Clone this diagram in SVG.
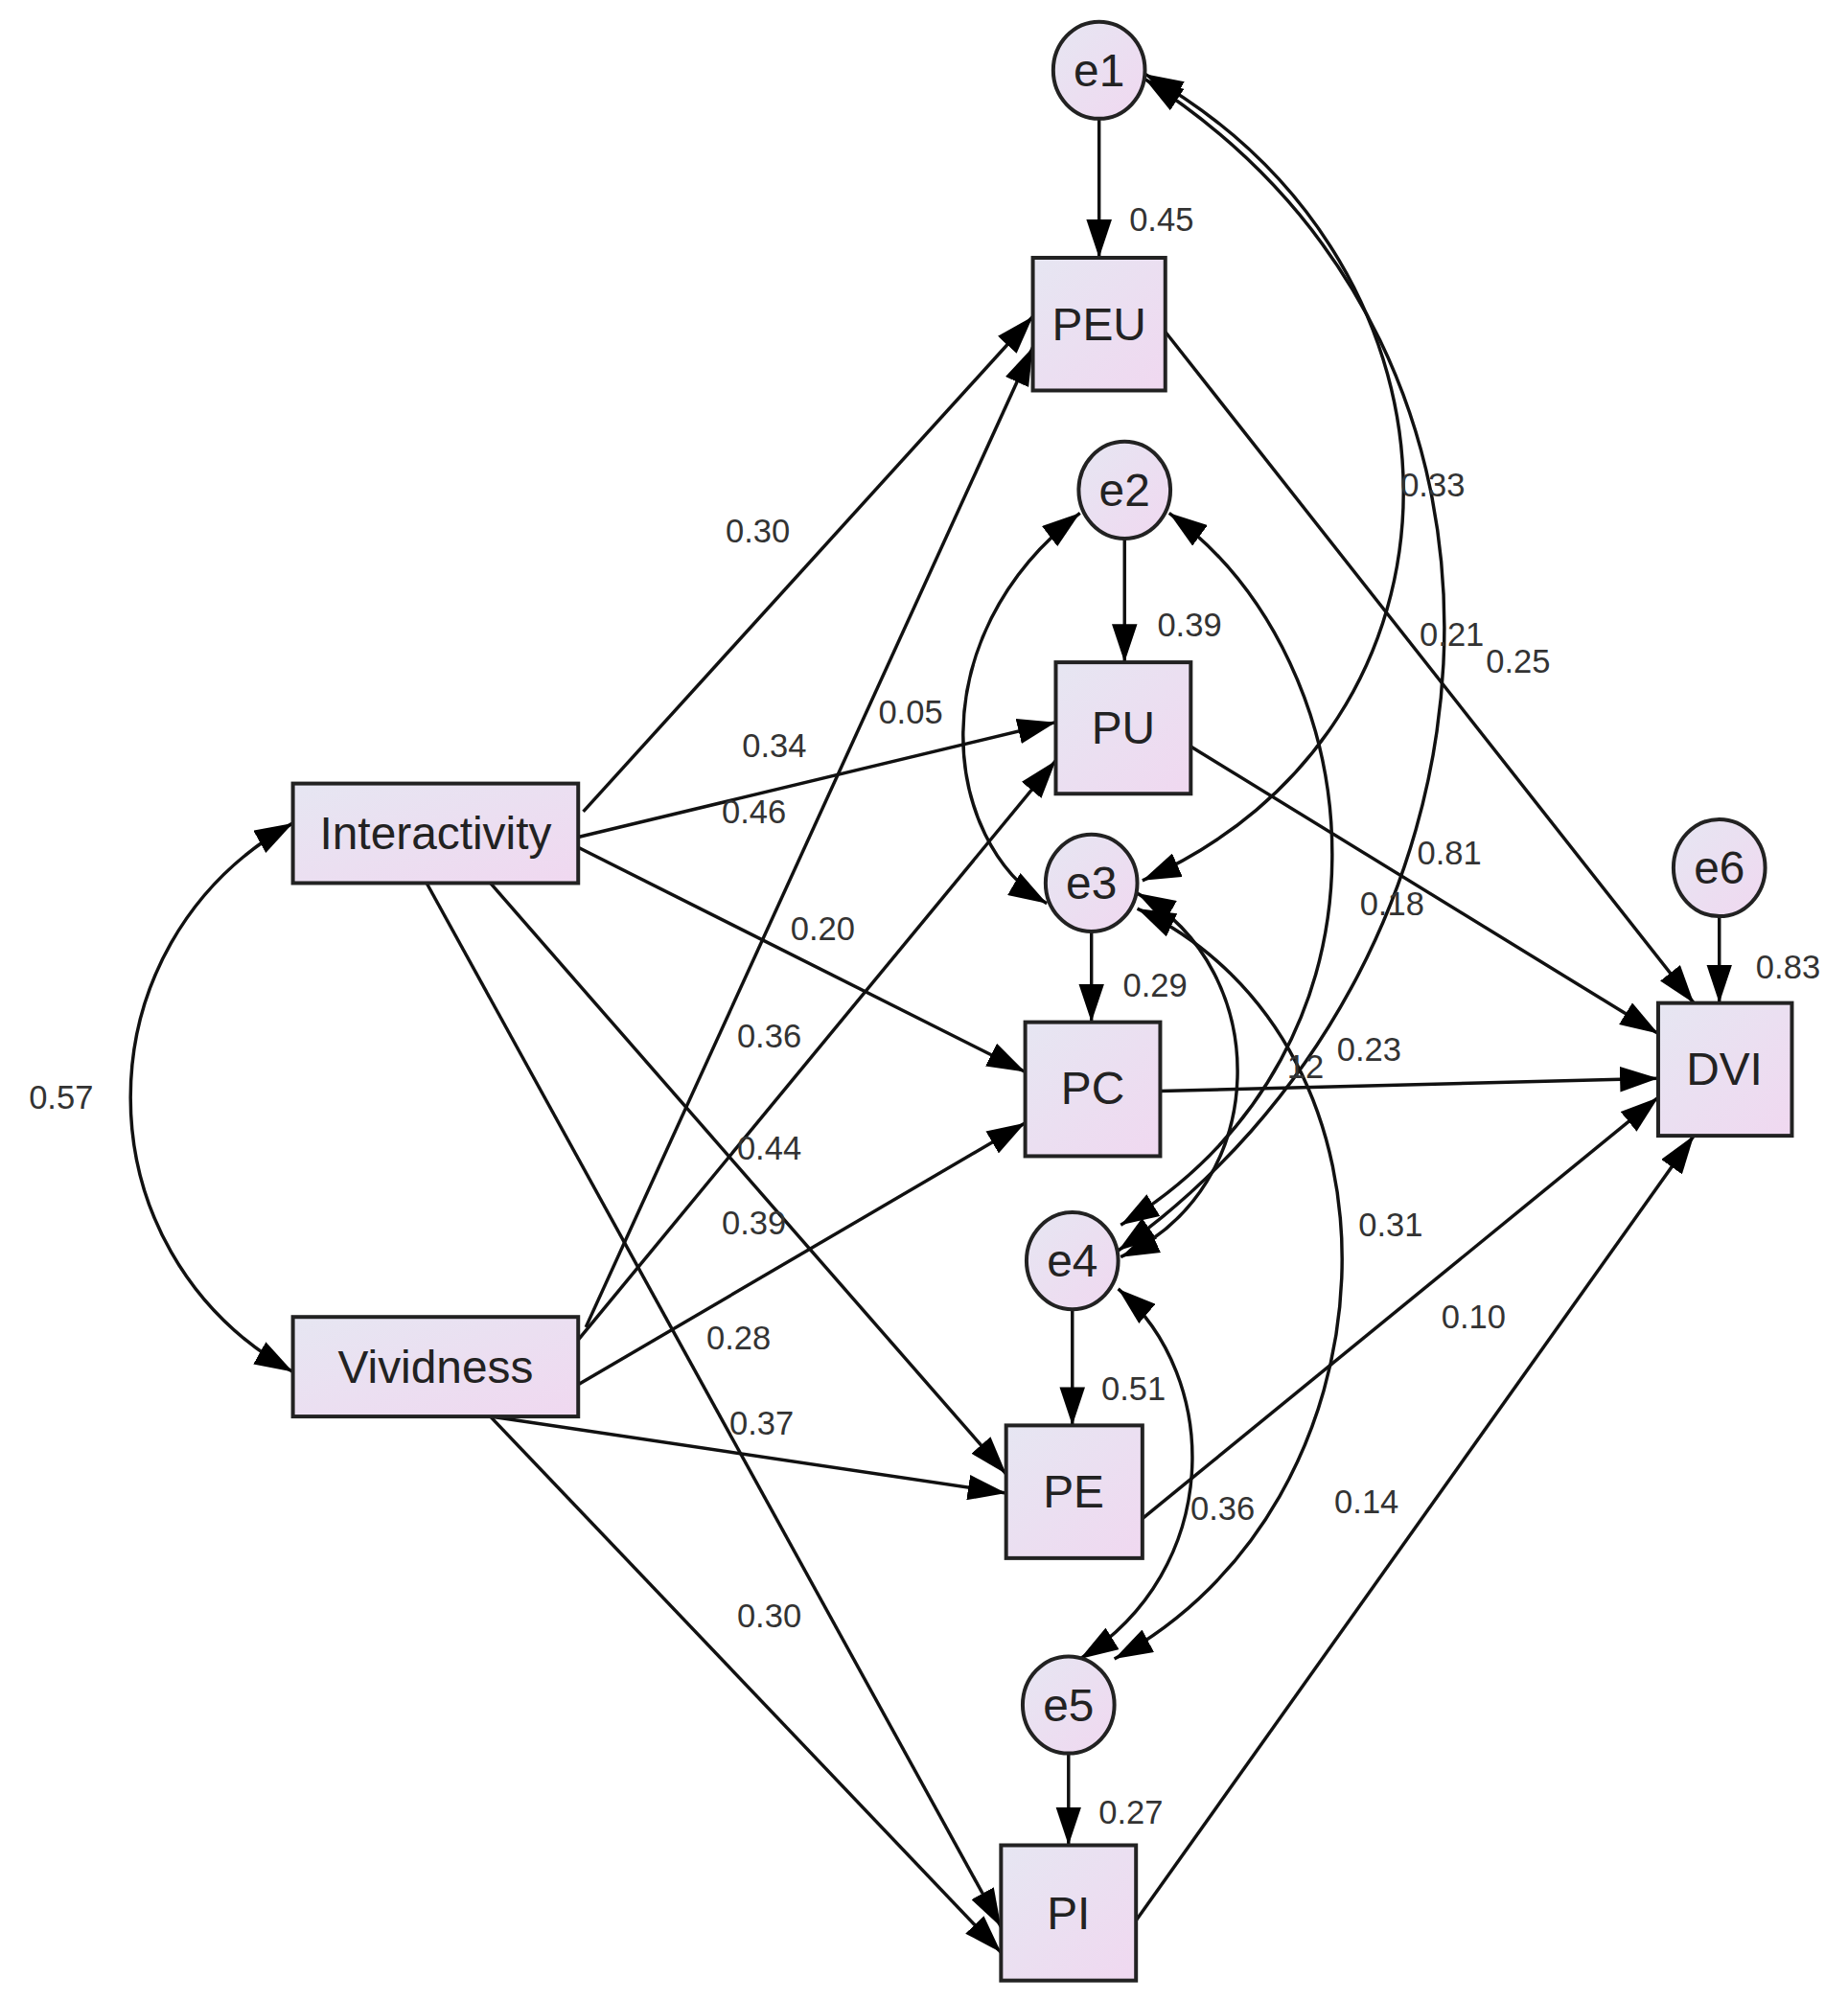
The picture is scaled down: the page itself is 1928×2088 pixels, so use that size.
<svg xmlns="http://www.w3.org/2000/svg" width="1928" height="2088" viewBox="0 0 1928 2088">
<defs>
<linearGradient id="g" x1="0" y1="0" x2="1" y2="1"><stop offset="0" stop-color="#e6e6f2"/><stop offset="1" stop-color="#f0d8f0"/></linearGradient>
<marker id="a" viewBox="0 0 30 20" refX="30" refY="10" markerWidth="30" markerHeight="20" markerUnits="userSpaceOnUse" orient="auto-start-reverse"><path d="M0,0 L30,10 L0,20 z" fill="#000"/></marker>
<style>
.n{fill:url(#g);stroke:#222;stroke-width:3}
.t{font-family:"Liberation Sans",Arial,sans-serif;font-size:36px;fill:#222;text-anchor:middle;dominant-baseline:central}
.l{font-family:"Liberation Sans",Arial,sans-serif;font-size:26px;fill:#333;text-anchor:middle;dominant-baseline:central}
.c path{fill:none;stroke:#111;stroke-width:2.6}
.c .s{marker-end:url(#a)}
.c .d{marker-start:url(#a);marker-end:url(#a)}
</style>
</defs>
<rect width="1928" height="2088" fill="#fff"/>
<g transform="scale(1.3287 1.3316)">
<g class="c" id="connectors">
<path class="s" d="M863,93 L863,202"/>
<path class="s" d="M883,422 L883,519"/>
<path class="s" d="M857,730 L857,801"/>
<path class="s" d="M842,1026 L842,1117"/>
<path class="s" d="M839,1374 L839,1446"/>
<path class="s" d="M1350,718 L1350,786"/>
<path class="s" d="M458,636 L811,248"/>
<path class="s" d="M460,1040 L811,272"/>
<path class="s" d="M454,656 L829,566"/>
<path class="s" d="M454,1050 L829,596"/>
<path class="s" d="M454,664 L805,840"/>
<path class="s" d="M454,1085 L805,880"/>
<path class="s" d="M385,692 L790,1155"/>
<path class="s" d="M335,692 L786,1510"/>
<path class="s" d="M385,1110 L790,1170"/>
<path class="s" d="M385,1110 L786,1530"/>
<path class="s" d="M915,260 L1330,786"/>
<path class="s" d="M935,585 L1302,810"/>
<path class="s" d="M911,855 L1302,845"/>
<path class="s" d="M897,1190 L1302,860"/>
<path class="s" d="M892,1505 L1330,890"/>
<path class="d" d="M230,645 C60,740 60,980 230,1075"/>
<path class="d" d="M899,58 C1170,210 1170,570 897,690"/>
<path class="d" d="M899,62 C1240,280 1190,760 878,980"/>
<path class="d" d="M848,402 C720,500 740,660 822,708"/>
<path class="d" d="M918,402 C1080,520 1110,820 880,960"/>
<path class="d" d="M893,700 C1000,760 1000,930 880,985"/>
<path class="d" d="M893,712 C1120,820 1100,1180 875,1300"/>
<path class="d" d="M878,1010 C960,1080 960,1230 848,1300"/>
</g>
<g id="Interactivity"><rect class="n" x="230" y="614" width="224" height="78"/><text class="t" x="342" y="653">Interactivity</text></g>
<g id="Vividness"><rect class="n" x="230" y="1032" width="224" height="78"/><text class="t" x="342" y="1071">Vividness</text></g>
<g id="PEU"><rect class="n" x="811" y="202" width="104" height="104"/><text class="t" x="863" y="254">PEU</text></g>
<g id="PU"><rect class="n" x="829" y="519" width="106" height="103"/><text class="t" x="882" y="570">PU</text></g>
<g id="PC"><rect class="n" x="805" y="801" width="106" height="105"/><text class="t" x="858" y="853">PC</text></g>
<g id="PE"><rect class="n" x="790" y="1117" width="107" height="104"/><text class="t" x="843" y="1169">PE</text></g>
<g id="PI"><rect class="n" x="786" y="1446" width="106" height="106"/><text class="t" x="839" y="1499">PI</text></g>
<g id="DVI"><rect class="n" x="1302" y="786" width="105" height="104"/><text class="t" x="1354" y="838">DVI</text></g>
<g id="e1"><ellipse class="n" cx="863" cy="55" rx="36" ry="38"/><text class="t" x="863" y="55">e1</text></g>
<g id="e2"><ellipse class="n" cx="883" cy="384" rx="36" ry="38"/><text class="t" x="883" y="384">e2</text></g>
<g id="e3"><ellipse class="n" cx="857" cy="692" rx="36" ry="38"/><text class="t" x="857" y="692">e3</text></g>
<g id="e4"><ellipse class="n" cx="842" cy="988" rx="36" ry="38"/><text class="t" x="842" y="988">e4</text></g>
<g id="e5"><ellipse class="n" cx="839" cy="1336" rx="36" ry="38"/><text class="t" x="839" y="1336">e5</text></g>
<g id="e6"><ellipse class="n" cx="1350" cy="680" rx="36" ry="38"/><text class="t" x="1350" y="680">e6</text></g>
<g id="labels">
<text class="l" x="912" y="172">0.45</text>
<text class="l" x="934" y="490">0.39</text>
<text class="l" x="907" y="772">0.29</text>
<text class="l" x="890" y="1088">0.51</text>
<text class="l" x="888" y="1420">0.27</text>
<text class="l" x="1404" y="758">0.83</text>
<text class="l" x="595" y="416">0.30</text>
<text class="l" x="715" y="558">0.05</text>
<text class="l" x="608" y="584">0.34</text>
<text class="l" x="592" y="636">0.46</text>
<text class="l" x="646" y="728">0.20</text>
<text class="l" x="604" y="812">0.36</text>
<text class="l" x="604" y="900">0.44</text>
<text class="l" x="592" y="958">0.39</text>
<text class="l" x="580" y="1048">0.28</text>
<text class="l" x="598" y="1115">0.37</text>
<text class="l" x="604" y="1266">0.30</text>
<text class="l" x="48" y="860">0.57</text>
<text class="l" x="1125" y="380">0.33</text>
<text class="l" x="1140" y="497">0.21</text>
<text class="l" x="1192" y="518">0.25</text>
<text class="l" x="1138" y="668">0.81</text>
<text class="l" x="1093" y="708">0.18</text>
<text class="l" x="1025" y="836">12</text>
<text class="l" x="1075" y="822">0.23</text>
<text class="l" x="1092" y="960">0.31</text>
<text class="l" x="1157" y="1032">0.10</text>
<text class="l" x="960" y="1182">0.36</text>
<text class="l" x="1073" y="1177">0.14</text>
</g>
</g>
</svg>
